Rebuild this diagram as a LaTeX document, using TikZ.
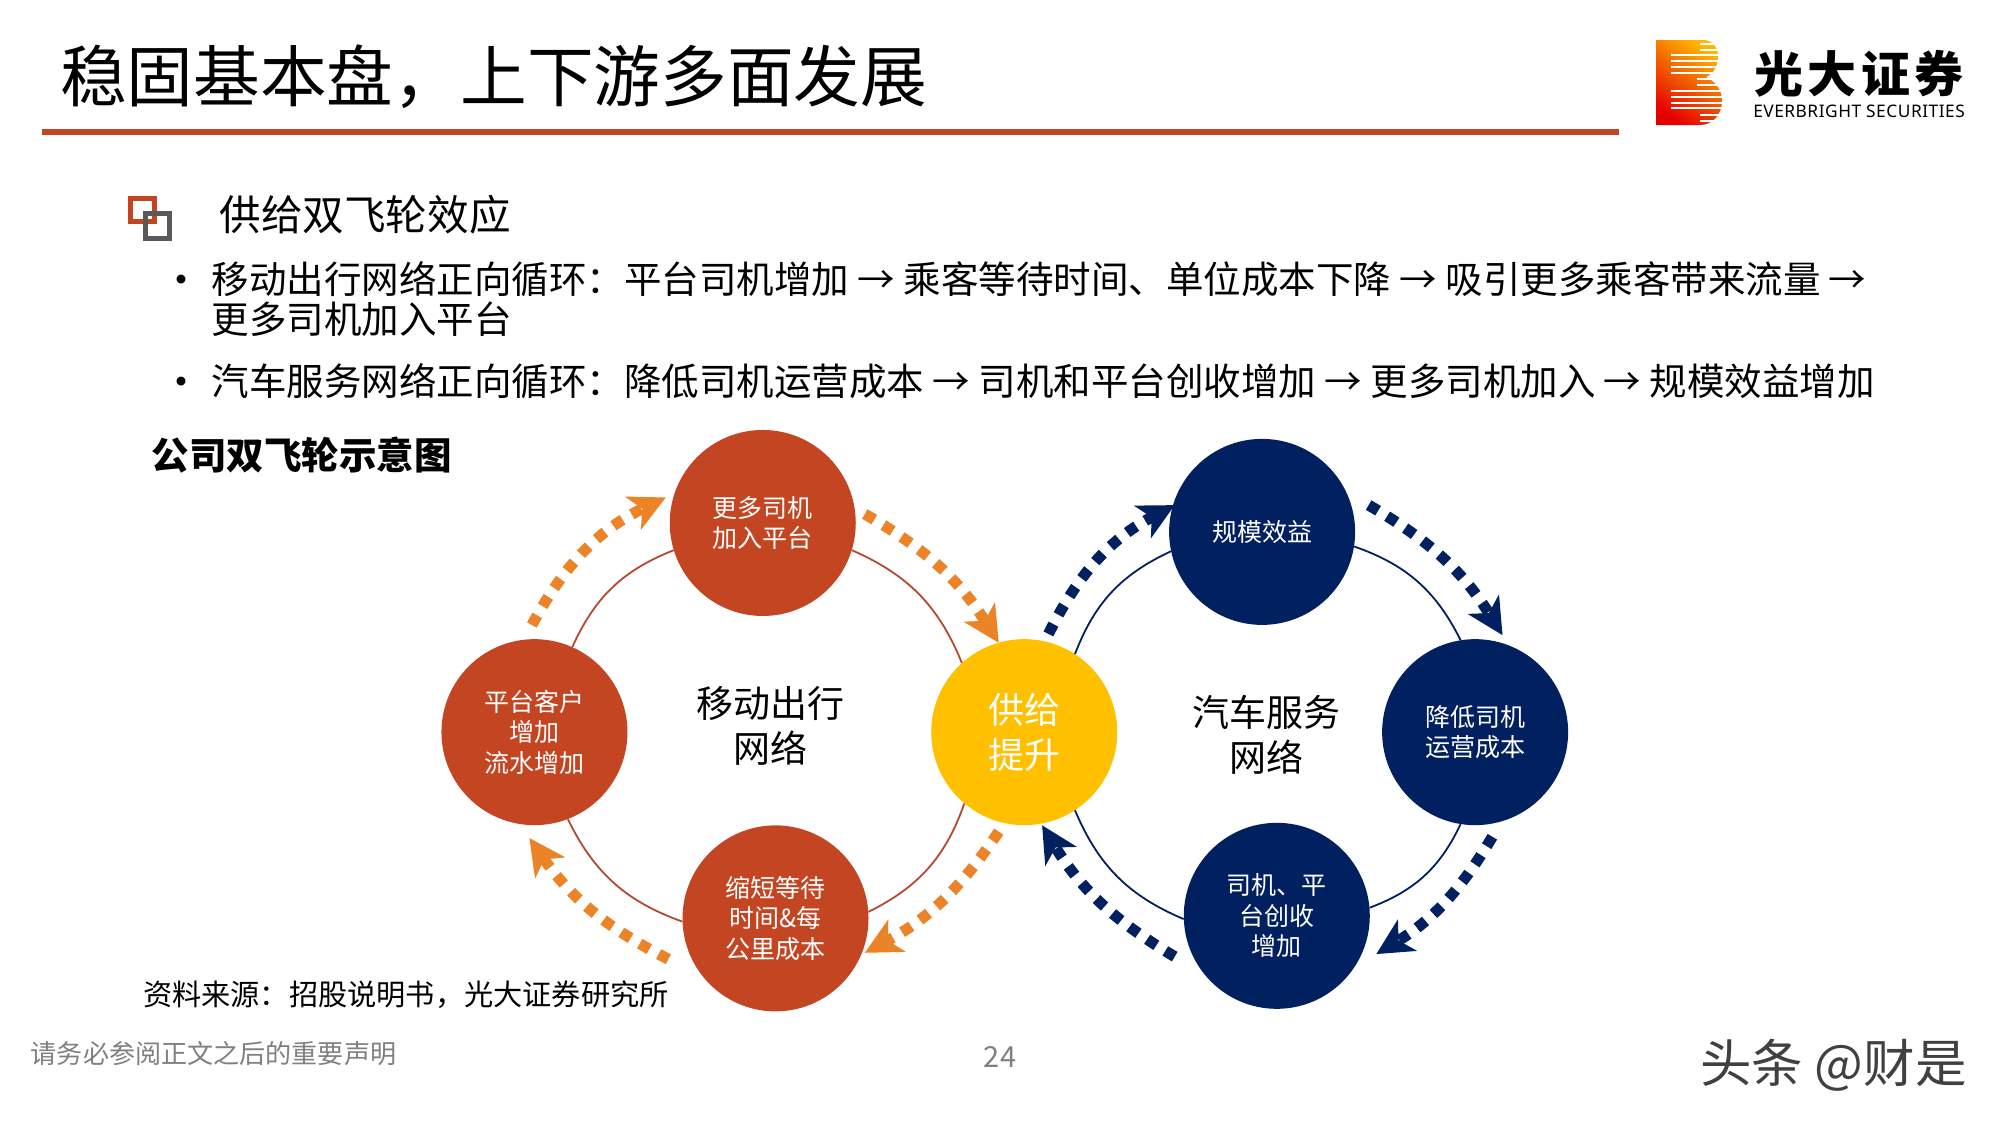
\documentclass[tikz,border=0pt]{standalone}
\usepackage{fontspec}
\usetikzlibrary{arrows.meta}
\setmainfont{Noto Sans CJK SC}
\newfontfamily\latinfont[LetterSpace=3]{Noto Sans}
\definecolor{rust}{HTML}{C44522}
\definecolor{ringrust}{HTML}{B5492F}
\definecolor{navy}{HTML}{002060}
\definecolor{sun}{HTML}{FFC000}
\definecolor{flow}{HTML}{EC8326}
\definecolor{slate}{HTML}{595959}
\newcommand{\fsz}[2]{\fontsize{#1}{#2}\selectfont}
\tikzset{
  x=1.2755pt,y=1.2755pt,
  disc/.style={circle,minimum size=186pt,inner sep=0pt,align=center,text=white,font=\fsz{25}{30.4}},
  reddisc/.style={disc,fill=rust},
  bluedisc/.style={disc,fill=navy},
  hubdisc/.style={disc,fill=sun,font=\fsz{36}{45}},
  ringa/.style={draw=ringrust,line width=1.8pt},
  ringb/.style={draw=navy,line width=1.8pt},
  flowa/.style={draw=flow,line width=11pt,dash pattern=on 11pt off 10.6pt,-{Stealth[length=36pt,width=36pt,inset=10pt,fill=flow]}},
  flowb/.style={draw=navy,line width=11pt,dash pattern=on 11pt off 10.6pt,-{Stealth[length=36pt,width=36pt,inset=10pt,fill=navy]}},
  txt/.style={anchor=west,inner sep=0pt,text=black},
  bodytxt/.style={txt,font=\fsz{37.5}{40}},
  dotmark/.style={inner sep=0pt,text=black,font=\fsz{42}{44}},
  centerlab/.style={inner sep=0pt,align=center,text=black,font=\fsz{37}{45}},
}
\begin{document}
\begin{tikzpicture}
\useasboundingbox (0,0) rectangle (1568,-882);
\fill[white] (0,0) rectangle (1568,-882);
% title
\node[txt,font=\fsz{66.7}{70}] (title) at (47,-60) {稳固基本盘，上下游多面发展};
\fill[rust] (33,-101) rectangle (1269,-106);
% logo
\begin{scope}[x=1pt,y=1pt]
  \shade[bottom color=red!90!black,middle color=orange!60!red,top color=orange!55!yellow,shading angle=-35]
    (1656,-40) -- (1703,-40) .. controls (1712,-40) and (1718,-47) .. (1718,-56)
    .. controls (1718,-66) and (1714,-73) .. (1706,-77) .. controls (1716,-82) and (1722,-90) .. (1722,-101)
    .. controls (1722,-115) and (1712,-125) .. (1700,-125) -- (1656,-125) -- cycle;
  \foreach \yy/\xx in {44/1700,50/1700,55/1671,60.7/1671,66.7/1671,72.7/1671,79.3/1697,85/1697,91/1671,96.7/1671,102.7/1671,108.3/1671,115/1700,120.7/1700}
    \fill[white] (\xx,-\yy-1) rectangle (1725,-\yy+1.1);
  \node[inner sep=0pt,font=\fsz{49}{56}\bfseries\addfontfeature{LetterSpace=9}] (logocn) at (1859,-74) {光大证券};
  \node[inner sep=0pt,font=\latinfont\fsz{17.3}{18}] (logoen) at (1859,-111) {EVERBRIGHT SECURITIES};
\end{scope}
% heading icon
\begin{scope}[x=1pt,y=1pt]
  \draw[rust,line width=5pt] (130.5,-198.5) rectangle (154.5,-221.5);
  \draw[slate,line width=5pt] (145.5,-213.5) rectangle (169.5,-238.5);
\end{scope}
\node[txt,font=\fsz{41.6}{44}] (heading) at (172,-168) {供给双飞轮效应};
\node[dotmark] (dota) at (142,-224) {•};
\node[bodytxt] (linea) at (166,-218.5) {移动出行网络正向循环：平台司机增加 → 乘客等待时间、单位成本下降 → 吸引更多乘客带来流量 →};
\node[bodytxt] (lineb) at (166,-250.5) {更多司机加入平台};
\node[dotmark] (dotb) at (142,-304) {•};
\node[bodytxt] (linec) at (166,-298.5) {汽车服务网络正向循环：降低司机运营成本 → 司机和平台创收增加 → 更多司机加入 → 规模效益增加};
\node[txt,font=\fsz{37.5}{40}\bfseries] (figtitle) at (119,-356.5) {公司双飞轮示意图};
% discs
\node[reddisc] (top) at (598,-410) {更多司机\\加入平台};
\node[reddisc] (left) at (419,-574) {平台客户\\增加\\流水增加};
\node[reddisc] (bot) at (608,-720) {缩短等待\\时间\&每\\公里成本};
\node[hubdisc] (hub) at (803,-574) {供给\\提升};
\node[bluedisc] (scale) at (989.5,-417) {规模效益};
\node[bluedisc] (cost) at (1156.5,-574) {降低司机\\运营成本};
\node[bluedisc] (rev) at (1001,-718) {司机、平\\台创收\\增加};
% rings
\draw[ringa] (top.197) to[bend right=22] (left.66);
\draw[ringa] (top.-17) to[bend left=22] (hub.132);
\draw[ringa] (hub.230) to[bend left=22] (bot.4);
\draw[ringa] (left.-69) to[bend right=22] (bot.182);
\draw[ringb] (hub.57) to[bend left=22] (scale.192);
\draw[ringb] (scale.-9) to[bend left=22] (cost.99);
\draw[ringb] (cost.261) to[bend left=22] (rev.5);
\draw[ringb] (rev.182) to[bend left=22] (hub.-57);
% flow arrows
\coordinate (a1s) at (417,-490); \coordinate (a1e) at (522,-390);
\coordinate (a2s) at (678,-403); \coordinate (a2e) at (783,-504);
\coordinate (a3s) at (783,-652); \coordinate (a3e) at (678,-747);
\coordinate (a4s) at (524,-752); \coordinate (a4e) at (415,-657);
\coordinate (b1s) at (822,-497); \coordinate (b1e) at (921,-396);
\coordinate (b2s) at (1073,-396); \coordinate (b2e) at (1178,-498);
\coordinate (b3s) at (1170,-656); \coordinate (b3e) at (1079,-748);
\coordinate (b4s) at (921,-750); \coordinate (b4e) at (817,-647);
\draw[flowa] (a1s) to[bend left=18] (a1e);
\draw[flowa] (a2s) to[bend left=14] (a2e);
\draw[flowa] (a3s) to[bend left=14] (a3e);
\draw[flowa] (a4s) to[bend left=14] (a4e);
\draw[flowb] (b1s) to[bend left=18] (b1e);
\draw[flowb] (b2s) to[bend left=14] (b2e);
\draw[flowb] (b3s) to[bend left=14] (b3e);
\draw[flowb] (b4s) to[bend left=14] (b4e);
% centre labels
\node[centerlab] (mob) at (604,-569) {移动出行\\网络};
\node[centerlab] (car) at (993,-576) {汽车服务\\网络};
% footer
\node[txt,font=\fsz{29.2}{32}] (source) at (112,-780) {资料来源：招股说明书，光大证券研究所};
\node[txt,text=gray,font=\fsz{26.1}{28}] (legal) at (24,-826) {请务必参阅正文之后的重要声明};
\node[inner sep=0pt,text=gray,font=\fsz{29}{32}] (page) at (784,-829) {24};
\node[anchor=east,inner sep=0pt,text=black!75,font=\fsz{51.5}{54}] (mark) at (1542,-835) {头条 @财是};
\end{tikzpicture}
\end{document}
